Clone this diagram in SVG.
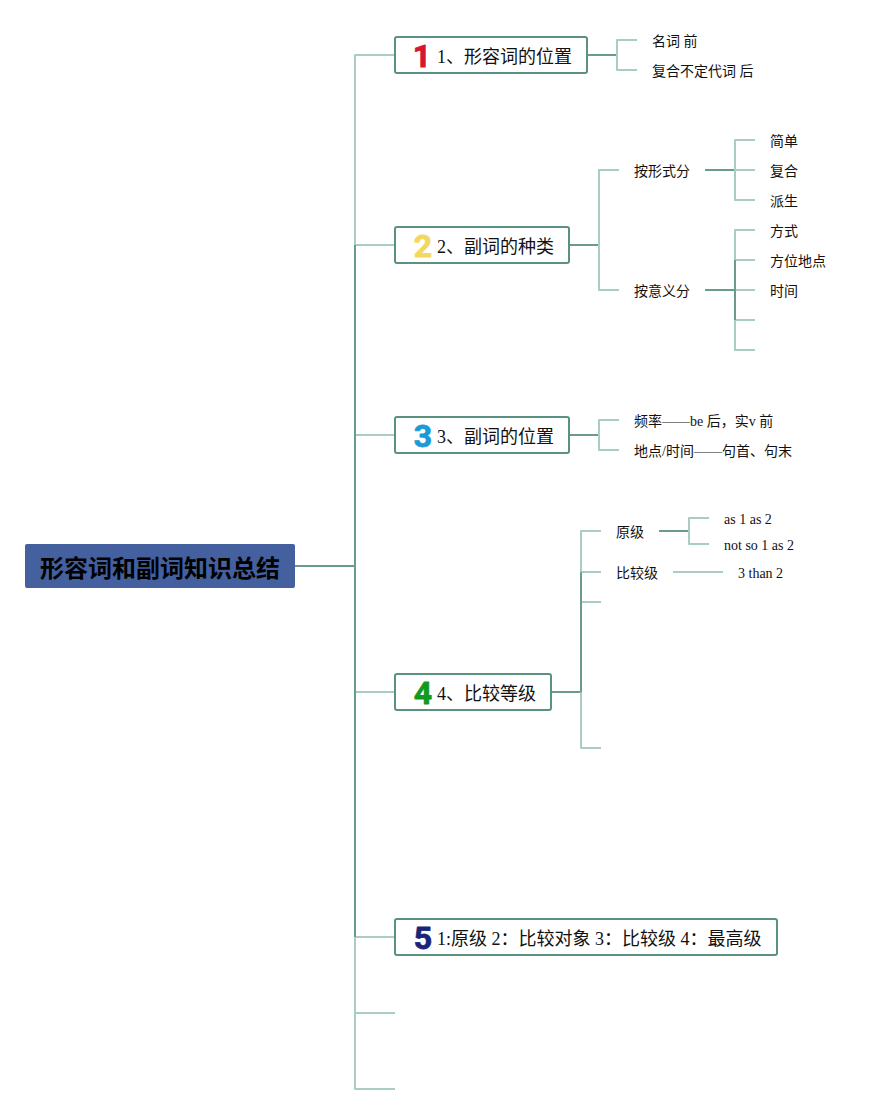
<svg xmlns="http://www.w3.org/2000/svg" width="886" height="1114" viewBox="0 0 886 1114">
<style>
text{font-family:"Liberation Serif","Noto Sans CJK SC",serif;fill:#111}
.m{font-size:18px}.s{font-size:14px}
.r{font-family:"Noto Sans CJK SC","Liberation Sans",sans-serif;font-size:24px;font-weight:700;fill:#000}
.i{font-family:Roboto,"Liberation Sans",sans-serif;font-size:32px;font-weight:700;text-anchor:middle;stroke-width:.8;stroke-linejoin:round}
.b{fill:#fff;stroke:#5b9181;stroke-width:2}
.d,.l{fill:none;stroke-linejoin:round}
.d{stroke:#6a9c8d;stroke-width:2}.l{stroke:#a9cdc2;stroke-width:2}
</style>
<rect width="886" height="1114" fill="#fff"/>
<g id="connectors">
<path class="l" d="M395 55H355V245M355 937V1089H395M355 1013H395"/>
<path class="l" d="M355 245H395M355 435H395M355 692H395M355 937H395"/>
<path class="d" d="M295 566H355M355 245V937"/>
<path class="d" d="M587 55H617M569 245H599M569 435H599M551 692H581"/>
<path class="l" d="M637 40H617V70H637"/>
<path class="l" d="M619 170H599V290H619"/>
<path class="d" d="M705 170H735M705 290H735"/>
<path class="l" d="M755 140H735V200H755M735 170H755"/>
<path class="l" d="M755 230H735V350H755M735 260H755M735 290H755M735 320H755"/>
<path class="d" d="M735 260V320"/>
<path class="l" d="M619 420H599V450H619"/>
<path class="l" d="M601 531H581V748H601M581 572H601M581 602H601"/>
<path class="d" d="M581 572V692"/>
<path class="d" d="M659 531H689"/>
<path class="l" d="M709 518H689V544H709M673 572H723"/>
</g>
<g id="root"><rect x="25" y="544" width="270" height="44" rx="2" fill="#44609f"/><text class="r" x="40" y="577">形容词和副词知识总结</text></g>
<g id="n1"><rect class="b" x="395" y="37" width="192" height="36" rx="2"/><text class="i" x="422" y="67" style="fill:#d8172e;stroke:#d8172e">1</text><text class="m" x="437" y="63">1、形容词的位置</text></g>
<g id="n2"><rect class="b" x="395" y="227" width="174" height="36" rx="2"/><text class="i" x="423" y="257" style="fill:#f2d95c;stroke:#f2d95c">2</text><text class="m" x="437" y="253">2、副词的种类</text></g>
<g id="n3"><rect class="b" x="395" y="417" width="174" height="36" rx="2"/><text class="i" x="423" y="447" style="fill:#1b9ad8;stroke:#1b9ad8">3</text><text class="m" x="437" y="443">3、副词的位置</text></g>
<g id="n4"><rect class="b" x="395" y="674" width="156" height="36" rx="2"/><text class="i" x="423" y="704" style="fill:#119a1f;stroke:#119a1f">4</text><text class="m" x="437" y="700">4、比较等级</text></g>
<g id="n5"><rect class="b" x="395" y="919" width="382" height="36" rx="2"/><text class="i" x="423" y="949" style="fill:#17257a;stroke:#17257a">5</text><text class="m" x="437" y="945">1:原级 2：比较对象 3：比较级 4：最高级</text></g>
<g id="leaves">
<text class="s" x="652" y="46">名词 前</text>
<text class="s" x="652" y="76">复合不定代词 后</text>
<text class="s" x="634" y="176">按形式分</text>
<text class="s" x="634" y="296">按意义分</text>
<text class="s" x="770" y="146">简单</text>
<text class="s" x="770" y="176">复合</text>
<text class="s" x="770" y="206">派生</text>
<text class="s" x="770" y="236">方式</text>
<text class="s" x="770" y="266">方位地点</text>
<text class="s" x="770" y="296">时间</text>
<text class="s" x="634" y="426.400">频率——be 后，实v 前</text>
<text class="s" x="634" y="456.400">地点/时间——句首、句末</text>
<text class="s" x="616" y="537">原级</text>
<text class="s" x="616" y="578">比较级</text>
<text class="s" x="724" y="524">as 1 as 2</text>
<text class="s" x="724" y="550">not so 1 as 2</text>
<text class="s" x="738" y="578">3 than 2</text>
</g>
</svg>
